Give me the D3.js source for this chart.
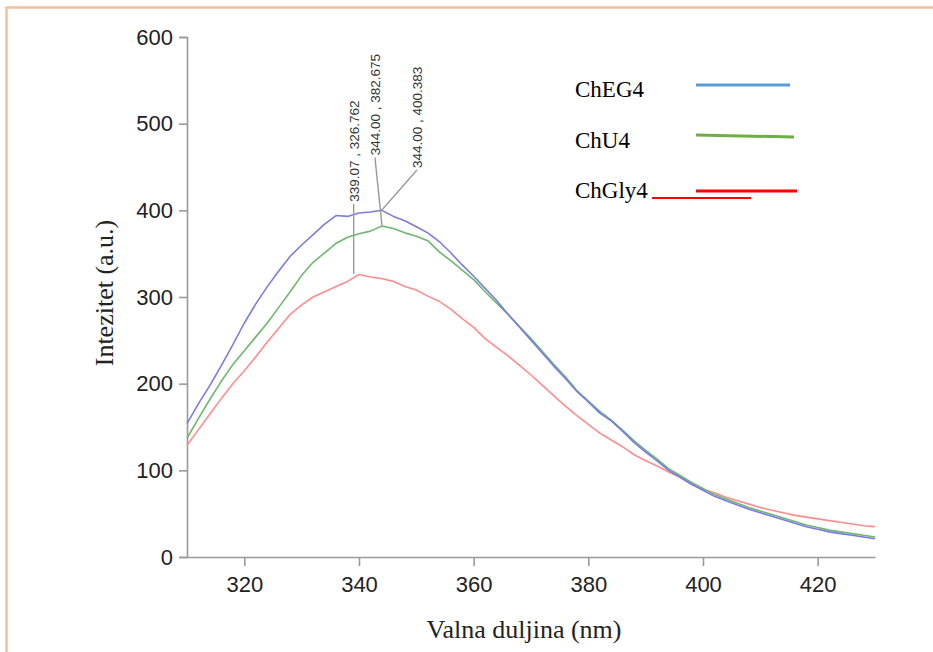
<!DOCTYPE html>
<html><head><meta charset="utf-8">
<script src="https://cdn.jsdelivr.net/npm/d3@7"></script>
<style>
html,body{margin:0;padding:0;background:#fff;}
svg{display:block;}
</style></head>
<body>
<svg id="chart" width="933" height="652"></svg>
<script>
const wavelengths = [310,312,314,316,318,320,322,324,326,328,330,332,334,336,338,340,342,344,346,348,350,352,354,356,358,360,362,364,366,368,370,372,374,376,378,380,382,384,386,388,390,392,394,396,398,400,402,404,406,408,410,412,414,416,418,420,422,424,426,428,430];
const chEG4 = [154,177,198,221,245,270,292,312,330,347,360,372,384,394,393,397,398,400,393,388,381,374,364,351,337,324,310,296,280,265,250,235,220,206,191,179,166,157,145,132,121,111,100,92,84,77,70,65,60,55,51,47,43,39,35,32,29,27,25,23,21];
const chU4 = [137,160,182,203,222,238,254,270,288,306,325,340,351,362,369,373,376,382,379,374,370,365,352,342,331,320,306,293,280,266,252,237,222,208,192,180,168,158,146,134,123,113,102,94,86,79,72,67,62,57,53,49,45,41,37,34,31,29,27,25,23];
const chGly4 = [129,147,165,183,200,215,231,248,264,280,291,300,306,312,318,326,323,321,318,312,308,301,295,286,275,265,252,242,232,221,210,198,186,174,163,153,143,135,127,118,111,105,98,92,84,78,74,69,65,61,57,54,51,48,46,44,42,40,38,36,35];
const seriesNames = ["ChEG4","ChU4","ChGly4"];
const xTicks = [320,340,360,380,400,420];
const yTicks = [0,100,200,300,400,500,600];
const peakX = [339.07, 344.00, 344.00];
const peakY = [326.762, 382.675, 400.383];
const peakLabels = ["339.07 , 326.762","344.00 , 382.675","344.00 , 400.383"];
const xTitle = "Valna duljina (nm)";
const yTitle = "Intezitet (a.u.)";

const svg = d3.select("#chart");
const x = d3.scaleLinear().domain([310,430]).range([187,875]);
const y = d3.scaleLinear().domain([0,600]).range([557,37]);

// frame
svg.append("path").attr("d","M6.5,652 V7.5 H933").attr("fill","none")
  .attr("stroke","#f6bf98").attr("stroke-width",2.5);

// axes
const axColor = "#9a9a9a";
const gy = svg.append("g").attr("transform","translate(187,0)")
  .call(d3.axisLeft(y).tickValues(yTicks).tickSize(8).tickSizeOuter(8).tickPadding(6));
const gx = svg.append("g").attr("transform","translate(0,557)")
  .call(d3.axisBottom(x).tickValues(xTicks).tickSize(9).tickSizeOuter(0).tickPadding(10));
[gx,gy].forEach(g=>{
  g.selectAll("path,line").attr("stroke",axColor).attr("stroke-width",1.6);
  g.selectAll("text").attr("fill","#222").style("font-family","Liberation Sans, Arial, sans-serif").style("font-size","22px");
});

// lines
const colors = ["#7b7be0","#6cb86c","#ff8c8c"];
const allSeries = [chEG4, chU4, chGly4];
const line = d3.line().x((d,i)=>x(wavelengths[i])).y(d=>y(d));
[2,1,0].forEach(k=>{
  svg.append("path").datum(allSeries[k]).attr("d",line)
    .attr("fill","none").attr("stroke",colors[k]).attr("stroke-width",1.6)
    .attr("stroke-linejoin","round");
});

// peak annotations
const labelOffsets = [[0,-70],[-7,-68],[35,-40]];
peakX.forEach((px,i)=>{
  const X = x(px), Y = y(peakY[i]);
  const lx = X + labelOffsets[i][0], ly = Y + labelOffsets[i][1];
  svg.append("line").attr("x1",lx).attr("y1",ly).attr("x2",X).attr("y2",Y)
    .attr("stroke","#999").attr("stroke-width",1.4);
  svg.append("text").attr("transform",`translate(${lx+5},${ly-2}) rotate(-90)`)
    .attr("text-anchor","start")
    .style("font-family","Liberation Sans, Arial, sans-serif").style("font-size","13.5px")
    .attr("fill","#333").text(peakLabels[i]);
});

// axis titles
svg.append("text").attr("x",524).attr("y",638).attr("text-anchor","middle")
  .style("font-family","Liberation Serif, Times New Roman, serif").style("font-size","26px")
  .attr("fill","#222").text(xTitle);
svg.append("text").attr("transform","translate(113,293) rotate(-90)").attr("text-anchor","middle")
  .style("font-family","Liberation Serif, Times New Roman, serif").style("font-size","26px")
  .attr("fill","#222").text(yTitle);

// legend
const legFont = "Liberation Serif, Times New Roman, serif";
const legY = [97,148,198];
seriesNames.forEach((n,i)=>{
  svg.append("text").attr("x",575).attr("y",legY[i])
    .style("font-family",legFont).style("font-size","23px").attr("fill","#000").text(n);
});
svg.append("line").attr("x1",696).attr("y1",85).attr("x2",790).attr("y2",85)
  .attr("stroke","#5b9bd5").attr("stroke-width",3);
svg.append("line").attr("x1",696).attr("y1",135).attr("x2",794).attr("y2",137)
  .attr("stroke","#70ad47").attr("stroke-width",3);
svg.append("line").attr("x1",696).attr("y1",191).attr("x2",797).attr("y2",191)
  .attr("stroke","#ff0000").attr("stroke-width",3);
svg.append("line").attr("x1",652).attr("y1",198).attr("x2",751).attr("y2",198)
  .attr("stroke","#ff0000").attr("stroke-width",2);
</script>
</body></html>
